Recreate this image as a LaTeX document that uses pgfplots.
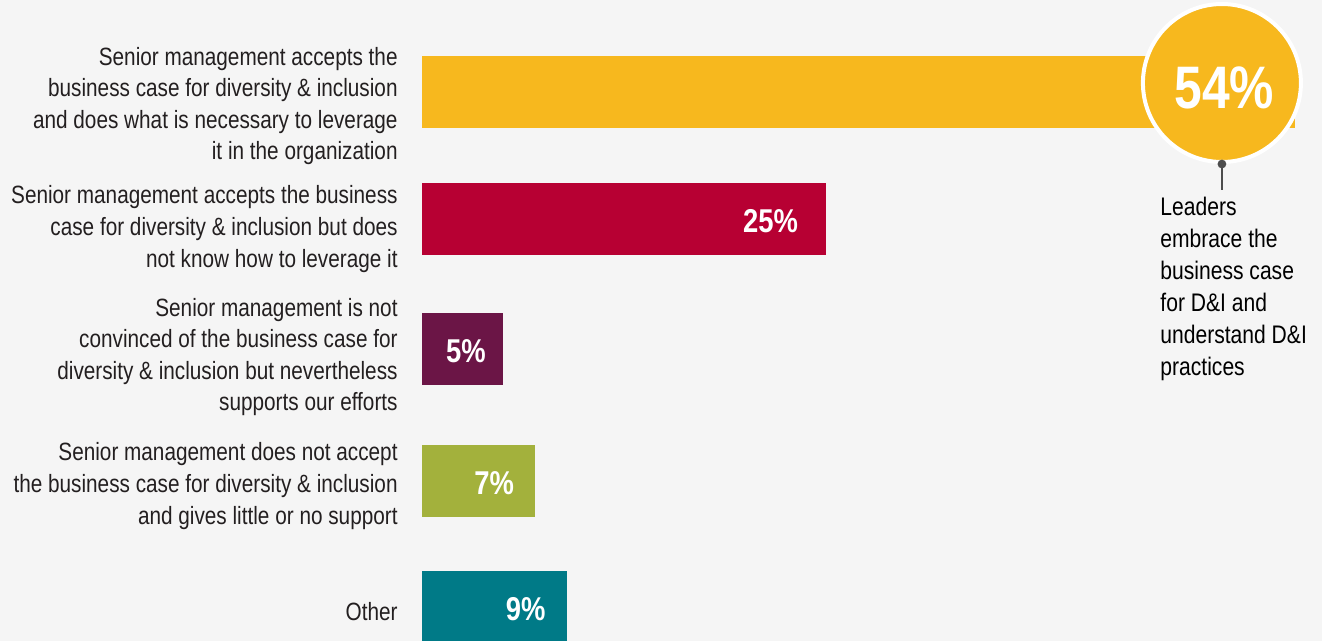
\documentclass[border=0pt]{standalone}
\usepackage{fontspec}
\setmainfont{Liberation Sans}[FakeStretch=0.83]
\usepackage{pgfplots}
\pgfplotsset{compat=1.18}
\definecolor{bg}{HTML}{F5F5F5}
\definecolor{cyellow}{HTML}{F7B81E}
\definecolor{ccrimson}{HTML}{B70033}
\definecolor{cpurple}{HTML}{6B1546}
\definecolor{colive}{HTML}{A3B13C}
\definecolor{cteal}{HTML}{007A87}
\definecolor{ctext}{HTML}{231F20}
\definecolor{cpin}{HTML}{4D4D4D}
\begin{document}
\begin{tikzpicture}
\fill[bg] (0,0) rectangle (661pt,-320.5pt);
\useasboundingbox (0,0) rectangle (661pt,-320.5pt);
\begin{axis}[
  at={(211pt,0pt)}, anchor=north west,
  scale only axis, width=450pt, height=320.5pt,
  xmin=0, xmax=55.693, ymin=0, ymax=641, y dir=reverse,
  clip=false,
  /pgf/number format/assume math mode=true,
  axis line style={draw=none},
  major tick length=0pt,
  xtick=\empty,
  ytick={100,223,351,480,606},
  yticklabels={
    {Senior management accepts the\\business case for diversity \& inclusion\\and does what is necessary to leverage\\it in the organization},
    {Senior management accepts the business\\case for diversity \& inclusion but does\\not know how to leverage it},
    {Senior management is not\\convinced of the business case for\\diversity \& inclusion but nevertheless\\supports our efforts},
    {Senior management does not accept\\the business case for diversity \& inclusion\\and gives little or no support},
    {Other}},
  yticklabel style={align=right, anchor=east, inner sep=0pt, xshift=-12pt, yshift=-3pt,
    font=\fontsize{12.5}{15.8}\selectfont, text=ctext},
  xbar, bar width=36pt,
  every axis plot/.append style={bar shift=0pt, draw=none},
  nodes near coords style={text=white, anchor=east, yshift=-1pt, font=\bfseries\fontsize{16.5}{16.5}\selectfont},
]
\addplot[fill=cyellow] coordinates {(54,92)};
\addplot[fill=ccrimson, nodes near coords={\pgfmathprintnumber{\pgfplotspointmeta}\%},
  every node near coord/.append style={xshift=-10.5pt}] coordinates {(25,219)};
\addplot[fill=cpurple, nodes near coords={\pgfmathprintnumber{\pgfplotspointmeta}\%},
  every node near coord/.append style={xshift=-5pt}] coordinates {(5,349)};
\addplot[fill=colive, nodes near coords={\pgfmathprintnumber{\pgfplotspointmeta}\%},
  every node near coord/.append style={xshift=-7pt}] coordinates {(7,481)};
\addplot[fill=cteal, nodes near coords={\pgfmathprintnumber{\pgfplotspointmeta}\%},
  every node near coord/.append style={xshift=-7.5pt}] coordinates {(9,607)};
% highlight circle
\node[circle, fill=cyellow, draw=white, line width=2pt, minimum size=79pt, inner sep=0pt,
  text=white] at (axis cs:49.5,83) {};
\node[text=white, font=\bfseries\fontsize{30}{30}\selectfont, inner sep=0pt] at (axis cs:49.65,88) {54\%};
\draw[cpin, line width=0.6pt] (axis cs:49.5,164) -- (axis cs:49.5,190);
\fill[cpin] (axis cs:49.5,164) circle (2.2pt);
\node[anchor=base west, align=left, inner sep=0pt, text=black,
  font=\fontsize{12.7}{16}\selectfont] at (axis cs:45.67,375)
  {Leaders\\embrace the\\business case\\for D\&I and\\understand D\&I\\practices};
\end{axis}
\end{tikzpicture}
\end{document}
